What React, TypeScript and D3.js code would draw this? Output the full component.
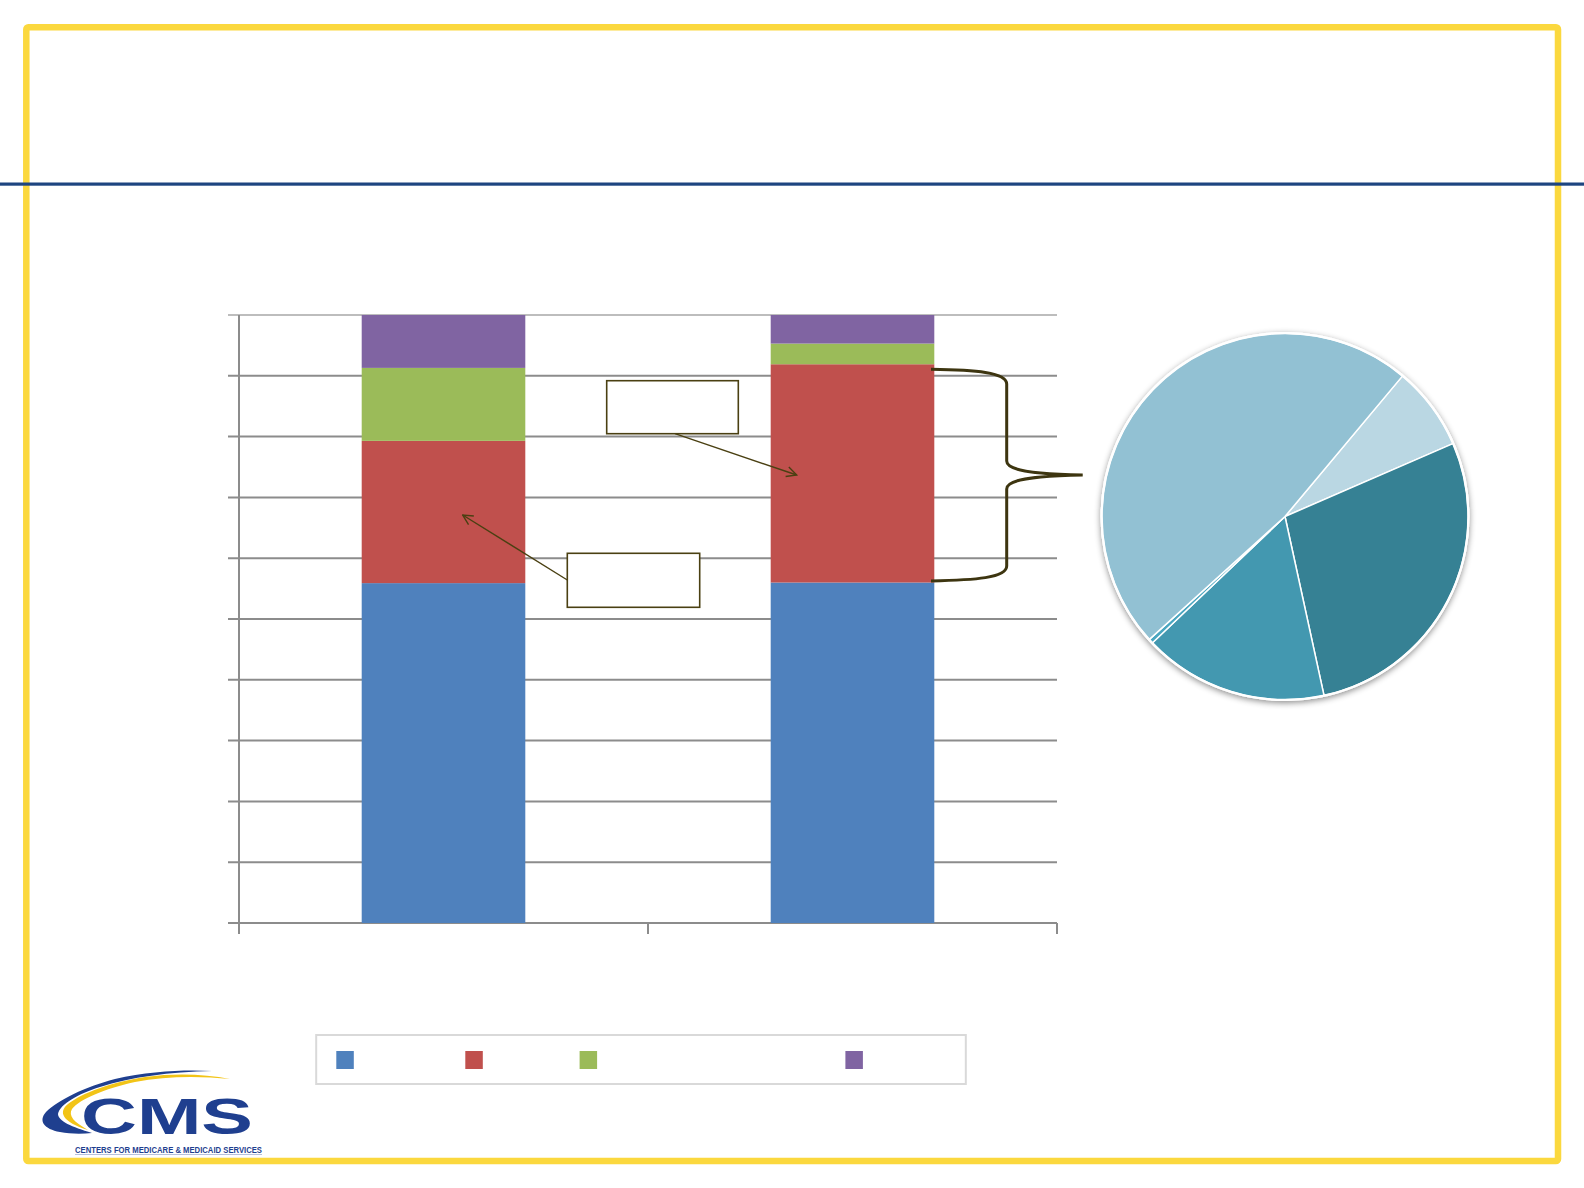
import React from "react";
import * as d3 from "d3";

const categories = ["Group 1", "Group 2"];
const seriesNames = ["Series 1", "Series 2", "Series 3", "Series 4"];
const seriesColors = ["#4F81BD", "#C0504D", "#9BBB59", "#8064A2"];
const blueValues = [55.9, 56.0];
const redValues = [23.4, 35.9];
const greenValues = [12.0, 3.4];
const purpleValues = [8.7, 4.7];
const yTicks = [0, 10, 20, 30, 40, 50, 60, 70, 80, 90, 100];

const pieValues = [7.4, 28.1, 16.3, 0.4, 47.8];
const pieColors = ["#BAD7E3", "#368194", "#4398B0", "#4AA6C0", "#92C1D3"];

export default function App() {
  const W = 1584, H = 1188;
  const x0 = 239, x1 = 1057, yTop = 315, yBot = 923;
  const xBand = d3.scaleBand<string>().domain(categories).range([x0, x1]).paddingInner(0).paddingOuter(0);
  const barW = xBand.bandwidth() / 2.5;
  const y = d3.scaleLinear().domain([0, 100]).range([yBot, yTop]);

  const allSeries = [blueValues, redValues, greenValues, purpleValues];
  const rows = categories.map((c, i) => {
    const r: any = { cat: c };
    seriesNames.forEach((s, k) => (r[s] = allSeries[k][i]));
    return r;
  });
  const stacked = d3.stack<any>().keys(seriesNames)(rows);

  const cx = 1285, cy = 516.5, R = 183;
  const start = (39.9 * Math.PI) / 180;
  const pie = d3.pie<number>().sort(null).value((d) => d).startAngle(start).endAngle(start + 2 * Math.PI);
  const arcs = pie(pieValues);
  const arcGen = d3.arc<d3.PieArcDatum<number>>().innerRadius(0).outerRadius(R);

  const ink = "#4A4012";

  return (
    <svg width={W} height={H} style={{ position: "absolute", left: 0, top: 0, background: "#fff" }}>
      <defs>
        <filter id="pieShadow" x="-20%" y="-20%" width="140%" height="140%">
          <feDropShadow dx="0" dy="2" stdDeviation="3" floodColor="#000" floodOpacity="0.45" />
        </filter>
        <marker id="openArrow" viewBox="0 0 12 12" refX="11" refY="6" markerWidth="12" markerHeight="12" markerUnits="userSpaceOnUse" orient="auto">
          <path d="M1,1 L11,6 L1,11" fill="none" stroke={ink} strokeWidth="1.4" />
        </marker>
      </defs>
      <rect width={W} height={H} fill="#fff" />

      {/* frame */}
      <rect x={26.3} y={27.3} width={1531.7} height={1133.7} fill="none" stroke="#FBD83E" strokeWidth={6.5} rx={2} />
      <rect x={0} y={182.5} width={W} height={3.2} fill="#1D4580" />

      {/* gridlines */}
      {yTicks.map((t) => (
        <line key={"g" + t} x1={228} x2={x1} y1={y(t)} y2={y(t)} stroke={t === 100 ? "#BDBDBD" : "#8C8C8C"} strokeWidth={t === 100 ? 1.8 : 2} />
      ))}
      {/* y axis */}
      <line x1={x0} x2={x0} y1={yTop} y2={yBot + 11} stroke="#8C8C8C" strokeWidth={2} />
      {/* x ticks */}
      {[x0, ...categories.map((c) => (xBand(c) as number) + xBand.bandwidth())].map((v, i) => (
        <line key={"xt" + i} x1={v} x2={v} y1={yBot} y2={yBot + 11} stroke="#8C8C8C" strokeWidth={2} />
      ))}

      {/* bars */}
      {stacked.map((s, k) => (
        <g key={s.key}>
          {s.map((d, i) => {
            const bx = (xBand(categories[i]) as number) + (xBand.bandwidth() - barW) / 2;
            return <rect key={i} x={bx} width={barW} y={y(d[1])} height={y(d[0]) - y(d[1])} fill={seriesColors[k]} />;
          })}
        </g>
      ))}

      {/* callout boxes and arrows */}
      <rect x={606.7} y={380.7} width={131.6} height={53} fill="#fff" stroke={ink} strokeWidth={1.6} />
      <line x1={675} y1={433.7} x2={796.7} y2={475} stroke={ink} strokeWidth={1.4} markerEnd="url(#openArrow)" />
      <rect x={567.3} y={553.3} width={132.4} height={54} fill="#fff" stroke={ink} strokeWidth={1.6} />
      <line x1={567.3} y1={580} x2={462.7} y2={515} stroke={ink} strokeWidth={1.4} markerEnd="url(#openArrow)" />

      {/* brace */}
      <path
        d="M931,369.3 C975,370 1006.7,372 1006.7,384 L1006.7,461 C1006.7,470 1030,474 1082.7,475 C1030,476 1006.7,480 1006.7,489 L1006.7,566 C1006.7,578 975,580 931,581"
        fill="none"
        stroke="#3D3510"
        strokeWidth={3}
      />

      {/* pie */}
      <g transform={`translate(${cx},${cy})`}>
        <circle r={R + 1.5} fill="#fff" filter="url(#pieShadow)" />
        {arcs.map((a, i) => (
          <path key={i} d={arcGen(a) as string} fill={pieColors[i]} stroke="#fff" strokeWidth={1.5} strokeLinejoin="round" />
        ))}
        <circle r={R + 0.5} fill="none" stroke="#fff" strokeWidth={2} />
      </g>

      {/* legend */}
      <rect x={316.2} y={1035} width={649.6} height={49} fill="#fff" stroke="#D9D9D9" strokeWidth={2} />
      {[336.3, 465.3, 579.6, 845.4].map((lx, i) => (
        <rect key={"lg" + i} x={lx} y={1051} width={17.5} height={18} fill={seriesColors[i]} />
      ))}

      {/* CMS logo */}
      <g>
        <path
          d="M212,1071 C185,1069.5 150,1071 115,1079 C85,1087 58,1100 46,1112 C38,1121 44,1129 60,1132 C70,1134 82,1134 92,1133 C72,1127 58,1121 58,1114 C60,1104 78,1094 100,1087 C130,1077 170,1072 212,1071 Z"
          fill="#1F3F8F"
        />
        <path
          d="M230,1079 C205,1074 175,1073 145,1077 C112,1082 82,1093 68,1104 C58,1112 62,1122 88,1130 C74,1122 68,1116 72,1109 C80,1099 104,1089 135,1082 C165,1076 200,1076 230,1079 Z"
          fill="#F2C417"
        />
        <text x={81} y={1134} fontFamily="Liberation Sans, Arial, sans-serif" fontWeight="bold" fontSize={50} fill="#1F3F8F" textLength={172} lengthAdjust="spacingAndGlyphs">CMS</text>
        <text x={75} y={1153} fontFamily="Liberation Sans, Arial, sans-serif" fontWeight="bold" fontSize={9} fill="#1F3F8F" textLength={187} lengthAdjust="spacingAndGlyphs">CENTERS FOR MEDICARE &amp; MEDICAID SERVICES</text>
        <line x1={75} x2={262} y1={1154.6} y2={1154.6} stroke="#1F3F8F" strokeWidth={0.6} opacity={0.6} />
      </g>
    </svg>
  );
}
